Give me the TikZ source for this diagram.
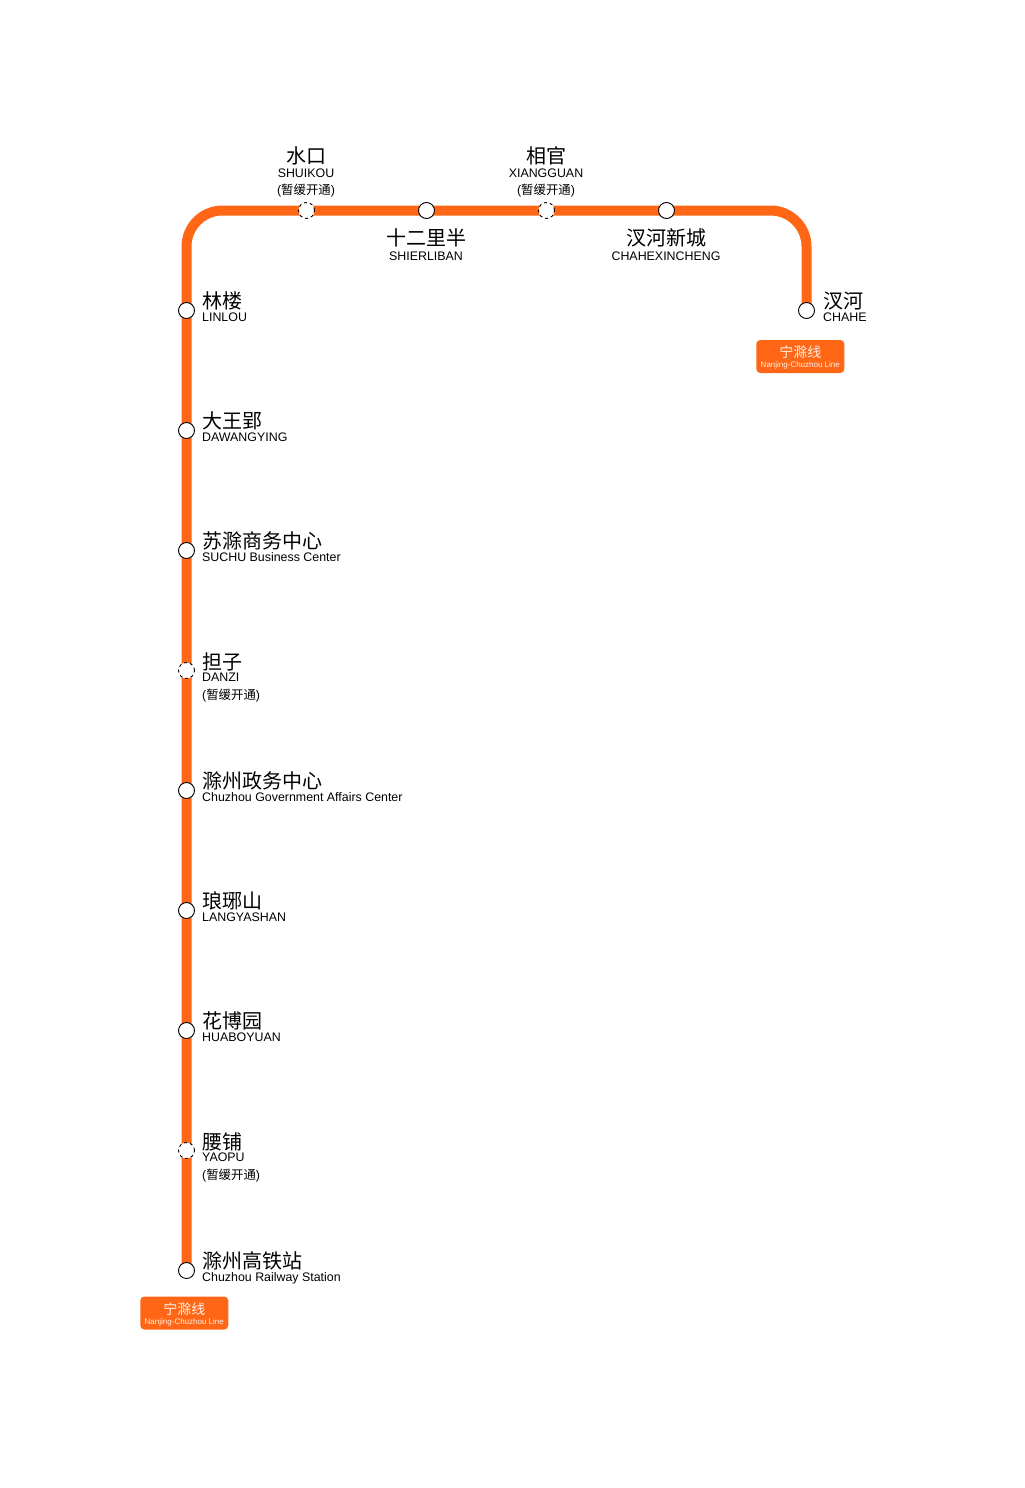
\documentclass[tikz,border=0pt]{standalone}
\usepackage{fontspec}
\setmainfont{Liberation Sans}
\newfontfamily\cjk{Noto Sans CJK SC}
\definecolor{lineor}{HTML}{FF6615}
\newcommand{\pausenote}{({\cjk 暂缓开通})}
\tikzset{
  x=1pt,y=-1pt,
  stn/.style={circle,draw=black,fill=white,line width=0.9pt,minimum size=16pt,inner sep=0pt},
  stnp/.style={stn,dash pattern=on 3pt off 3pt},
  track/.style={draw=lineor,line width=10pt,rounded corners=36pt},
  zh/.style={inner sep=0pt,anchor=base,font=\cjk\fontsize{20}{20}\selectfont},
  en/.style={inner sep=0pt,anchor=base,font=\fontsize{12.4}{12.4}\selectfont},
  nt/.style={inner sep=0pt,anchor=base,font=\fontsize{12.4}{12.4}\selectfont},
  badge/.style={fill=lineor,rounded corners=4pt,minimum width=88pt,minimum height=33pt,inner sep=0pt},
  bzh/.style={inner sep=0pt,anchor=base,text=white!90!lineor,font=\cjk\fontsize{14}{14}\selectfont},
  ben/.style={inner sep=0pt,anchor=base,text=white!90!lineor,font=\fontsize{8}{8}\selectfont},
}
\begin{document}
\begin{tikzpicture}
\useasboundingbox (0,0) rectangle (1025,1488);
\fill[white] (0,0) rectangle (1025,1488);
\coordinate (cnw) at (186.5,210.5);
\coordinate (cne) at (806.5,210.5);
\path (186.5,1270.5) coordinate (p1) (806.5,310.5) coordinate (p2);
\draw[track] (p1) -- (cnw) -- (cne) -- (p2);
\foreach \n/\x/\y/\s in {a/806.5/310.5/stn,b/666.5/210.5/stn,c/546.5/210.5/stnp,d/426.5/210.5/stn,e/306.5/210.5/stnp,f/186.5/310.5/stn,g/186.5/430.5/stn,h/186.5/550.5/stn,i/186.5/670.5/stnp,j/186.5/790.5/stn,k/186.5/910.5/stn,l/186.5/1030.5/stn,m/186.5/1150.5/stnp,n/186.5/1270.5/stn}
  \node[\s] (\n) at (\x,\y) {};
% top labels
\node[zh] (t1) at (306,163) {水口};
\node[en] (t1e) at (306,177.3) {SHUIKOU};
\node[nt] (t1n) at (306,194) {\pausenote};
\node[zh] (t2) at (426,245.8) {十二里半};
\node[en] (t2e) at (426,260) {SHIERLIBAN};
\node[zh] (t3) at (546,163) {相官};
\node[en] (t3e) at (546,177.3) {XIANGGUAN};
\node[nt] (t3n) at (546,194) {\pausenote};
\node[zh] (t4) at (666,245.8) {汊河新城};
\node[en] (t4e) at (666,260) {CHAHEXINCHENG};
% right
\node[zh,anchor=base west] (r1) at (823,308) {汊河};
\node[en,anchor=base west] (r1e) at (823,321.7) {CHAHE};
% left labels
\foreach \nm/\y/\zhs/\ens in {
 l1/310/林楼/LINLOU,
 l2/430/大王郢/DAWANGYING,
 l3/550/苏滁商务中心/SUCHU Business Center,
 l5/790/滁州政务中心/Chuzhou Government Affairs Center,
 l6/910/琅琊山/LANGYASHAN,
 l7/1030/花博园/HUABOYUAN,
 l9/1270/滁州高铁站/Chuzhou Railway Station}{
  \node[zh,anchor=base west] (\nm) at (202,\y-2) {\zhs};
  \node[en,anchor=base west] (\nm e) at (202,\y+11.7) {\ens};
}
\foreach \nm/\y/\zhs/\ens in {l4/670/担子/DANZI,l8/1150/腰铺/YAOPU}{
  \node[zh,anchor=base west] (\nm) at (202,\y-1) {\zhs};
  \node[en,anchor=base west] (\nm e) at (202,\y+11.7) {\ens};
  \node[nt,anchor=base west] (\nm n) at (202,\y+29) {\pausenote};
}
% badges
\node[badge] (b1) at (800.3,356.5) {};
\node[bzh] (b1z) at (800.3,357) {宁滁线};
\node[ben] (b1e) at (800.3,367.3) {Nanjing-Chuzhou Line};
\node[badge] (b2) at (184.3,1313) {};
\node[bzh] (b2z) at (184.3,1314) {宁滁线};
\node[ben] (b2e) at (184.3,1324.3) {Nanjing-Chuzhou Line};
\end{tikzpicture}
\end{document}
